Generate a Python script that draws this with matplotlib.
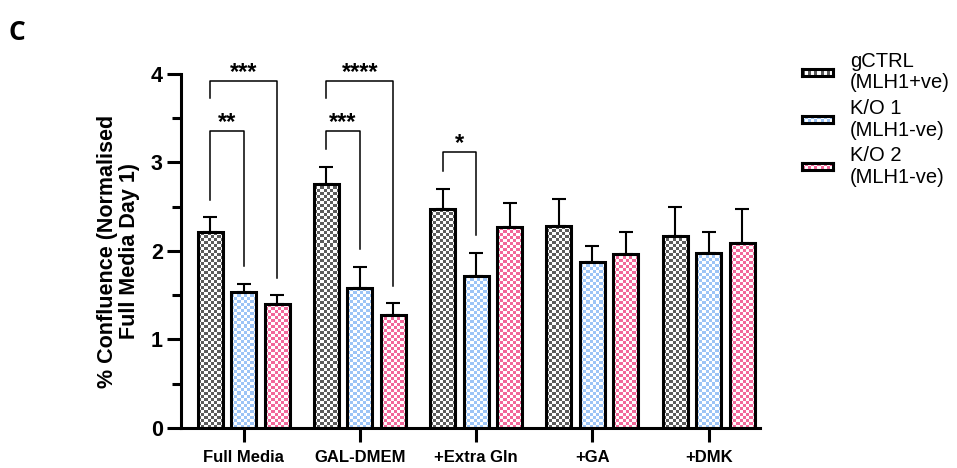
import numpy as np
import matplotlib
matplotlib.use("Agg")
import matplotlib.pyplot as plt
from matplotlib.colors import ListedColormap

plt.rcParams['font.family'] = ['Liberation Sans', 'DejaVu Sans']

conditions = ["Full Media", "GAL-DMEM", "+Extra Gln", "+GA", "+DMK"]
series = ["gCTRL\n(MLH1+ve)", "K/O 1\n(MLH1-ve)", "K/O 2\n(MLH1-ve)"]

gctrl = [2.21, 2.76, 2.47, 2.28, 2.17]
ko1 = [1.54, 1.58, 1.72, 1.88, 1.98]
ko2 = [1.40, 1.28, 2.27, 1.97, 2.09]

gctrl_err = [0.17, 0.19, 0.23, 0.31, 0.33]
ko1_err = [0.09, 0.24, 0.26, 0.18, 0.23]
ko2_err = [0.10, 0.13, 0.27, 0.24, 0.38]

# (condition index, bar a, bar b, stars, bracket height, left arm nested under another bracket)
brackets = [
    (0, 0, 1, "**", 3.36, False),
    (0, 0, 2, "***", 3.92, True),
    (1, 0, 1, "***", 3.36, False),
    (1, 0, 2, "****", 3.92, True),
    (2, 0, 1, "*", 3.12, False),
]

colors = ["#5c5c5c", "#9cc4f6", "#f2689a"]
means = [gctrl, ko1, ko2]
errs = [gctrl_err, ko1_err, ko2_err]

CELL = 3.0  # checker cell size in pixels


def checker(n_y, n_x):
    return np.indices((n_y, n_x)).sum(axis=0) % 2


fig = plt.figure(figsize=(9.57, 4.68), dpi=100)
ax = fig.add_axes([0.1891, 0.0855, 0.605, 0.7564])
ax.set_xlim(-0.538, 4.44)
ax.set_ylim(0, 4)

x = np.arange(len(conditions))
offset = 0.288
width = 0.215

for k in range(3):
    pos = x + (k - 1) * offset
    bars = ax.bar(pos, means[k], width, facecolor="none", edgecolor="black",
                  linewidth=2.2, zorder=3)
    for rect in bars:
        x0, y0 = rect.get_x(), rect.get_y()
        w, h = rect.get_width(), rect.get_height()
        p = ax.transData.transform([(x0, y0), (x0 + w, y0 + h)])
        nx = max(1, int(round((p[1, 0] - p[0, 0]) / CELL)))
        ny = max(1, int(round((p[1, 1] - p[0, 1]) / CELL)))
        ax.imshow(checker(ny, nx), cmap=ListedColormap(["white", colors[k]]),
                  extent=(x0, x0 + w, y0, y0 + h), origin="lower",
                  interpolation="nearest", aspect="auto", zorder=2.5)
    ax.errorbar(pos, means[k], yerr=[np.zeros(len(x)), errs[k]], fmt="none",
                ecolor="black", elinewidth=1.5, capsize=5, capthick=1.5, zorder=2)

ax.set_xlim(-0.538, 4.44)
ax.set_ylim(0, 4)

# significance brackets
gap = 0.2
for g, a, b, label, top, nested in brackets:
    xa = g + (a - 1) * offset
    xb = g + (b - 1) * offset
    ya = top - 0.19 if nested else means[a][g] + errs[a][g] + gap
    yb = means[b][g] + errs[b][g] + gap
    ax.plot([xa, xa, xb, xb], [ya, top, top, yb], color="black", lw=1.1,
            clip_on=False, zorder=4)
    ax.text((xa + xb) / 2, top + 0.02, label, ha="center", va="baseline",
            fontsize=17, fontweight="bold", clip_on=False)

for side in ["top", "right"]:
    ax.spines[side].set_visible(False)
for side in ["left", "bottom"]:
    ax.spines[side].set_linewidth(2.2)

ax.set_yticks([0, 1, 2, 3, 4])
ax.set_yticks(np.arange(0.5, 4, 1.0), minor=True)
ax.tick_params(axis="y", which="major", length=10, width=2.2, labelsize=15.5, pad=3)
ax.tick_params(axis="y", which="minor", length=6.5, width=2.2)
for t in ax.get_yticklabels():
    t.set_fontweight("bold")

ax.set_xticks(x)
ax.set_xticklabels(conditions, fontsize=12, fontweight="bold")
ax.tick_params(axis="x", length=10, width=2.2, pad=6)

ax.set_ylabel("% Confluence (Normalised\nFull Media Day 1)", fontsize=15.5,
              fontweight="bold", linespacing=1.1)
ax.yaxis.set_label_coords(-0.07, 0.5)

# legend drawn by hand: checkered swatch + two-line label
W, H = 957.0, 468.0
for k in range(3):
    cy = 72 + 47.2 * k
    lax = fig.add_axes([802 / W, 1 - (cy + 3.5) / H, 31 / W, 7 / H])
    lax.imshow(checker(2, 10), cmap=ListedColormap(["white", colors[k]]),
               interpolation="nearest", aspect="auto")
    lax.set_xticks([])
    lax.set_yticks([])
    for s in lax.spines.values():
        s.set_linewidth(2.2)
    fig.text(850 / W, 1 - cy / H, series[k], ha="left", va="center",
             fontsize=14.5, linespacing=1.18)

fig.text(9 / W, 1 - 33 / H, "C", ha="left", va="center", fontsize=19,
         fontweight="bold", family=["Open Sans", "DejaVu Sans"])

fig.savefig("out.png", dpi=100)
